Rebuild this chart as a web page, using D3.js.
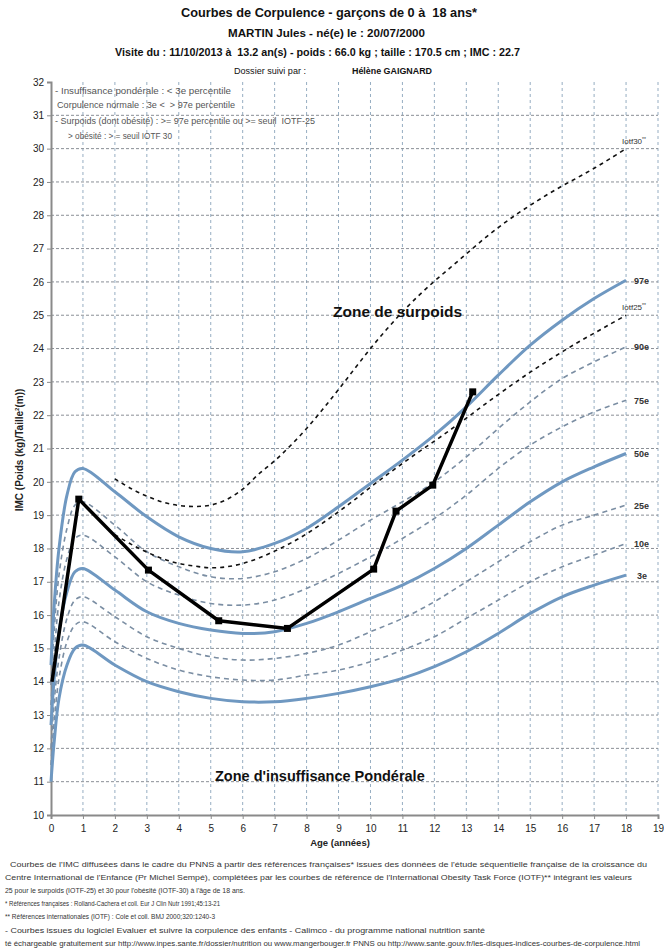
<!DOCTYPE html>
<html><head><meta charset="utf-8">
<script src="https://cdn.jsdelivr.net/npm/d3@7"></script>
<style>
body{margin:0;background:#fff;}
svg{display:block;font-family:"Liberation Sans",Arial,sans-serif;}
</style></head>
<body>
<svg id="c" width="664" height="951"></svg>
<script>
// ---------- DATA ----------
const refAges = [0, 0.1, 0.25, 0.5, 0.75, 1, 2, 3, 4, 5, 6, 7, 8, 9, 10, 11, 12, 13, 14, 15, 16, 17, 18];
const p3  = [11.0, 12.2, 13.5, 14.5, 15.0, 15.1, 14.5, 14.0, 13.7, 13.5, 13.4, 13.4, 13.5, 13.65, 13.85, 14.1, 14.45, 14.9, 15.45, 16.05, 16.55, 16.9, 17.2];
const p10 = [11.5, 12.8, 14.1, 15.2, 15.7, 15.8, 15.2, 14.7, 14.35, 14.15, 14.05, 14.05, 14.2, 14.35, 14.6, 14.95, 15.35, 15.9, 16.45, 17.0, 17.45, 17.8, 18.15];
const p25 = [12.0, 13.4, 14.7, 15.9, 16.45, 16.55, 15.95, 15.35, 15.0, 14.75, 14.65, 14.7, 14.85, 15.1, 15.5, 15.9, 16.4, 17.0, 17.6, 18.2, 18.7, 19.0, 19.3];
const p50 = [12.7, 14.1, 15.5, 16.7, 17.3, 17.4, 16.75, 16.1, 15.75, 15.55, 15.45, 15.5, 15.75, 16.1, 16.5, 16.9, 17.4, 18.0, 18.7, 19.4, 20.0, 20.45, 20.85];
const p75 = [13.3, 14.8, 16.4, 17.7, 18.3, 18.4, 17.75, 17.0, 16.6, 16.35, 16.3, 16.45, 16.8, 17.25, 17.75, 18.3, 18.9, 19.6, 20.4, 21.1, 21.65, 22.1, 22.45];
const p90 = [13.9, 15.55, 17.2, 18.6, 19.3, 19.4, 18.7, 17.9, 17.45, 17.15, 17.1, 17.3, 17.7, 18.25, 18.85, 19.4, 20.0, 20.75, 21.6, 22.4, 23.1, 23.6, 24.05];
const p97 = [14.5, 16.3, 18.0, 19.6, 20.3, 20.4, 19.7, 18.95, 18.35, 18.0, 17.9, 18.15, 18.6, 19.25, 19.95, 20.65, 21.4, 22.25, 23.2, 24.1, 24.85, 25.5, 26.05];

const iotfAges = [2, 2.5, 3, 3.5, 4, 4.5, 5, 5.5, 6, 6.5, 7, 7.5, 8, 8.5, 9, 9.5, 10, 10.5, 11, 11.5, 12, 12.5, 13, 13.5, 14, 14.5, 15, 15.5, 16, 16.5, 17, 17.5, 18];
const iotf25 = [18.41, 18.13, 17.89, 17.69, 17.55, 17.47, 17.42, 17.45, 17.55, 17.71, 17.92, 18.16, 18.44, 18.76, 19.10, 19.46, 19.84, 20.20, 20.55, 20.89, 21.22, 21.56, 21.91, 22.27, 22.62, 22.96, 23.29, 23.60, 23.90, 24.19, 24.46, 24.73, 25.00];
const iotf30 = [20.09, 19.80, 19.57, 19.39, 19.29, 19.26, 19.30, 19.47, 19.78, 20.23, 20.63, 21.09, 21.60, 22.17, 22.77, 23.39, 24.00, 24.57, 25.10, 25.58, 26.02, 26.43, 26.84, 27.25, 27.63, 27.98, 28.30, 28.60, 28.88, 29.14, 29.41, 29.70, 30.00];

const patientAges = [0.03, 0.87, 3.05, 5.25, 7.4, 10.1, 10.8, 11.95, 13.2];
const patientBMI  = [14.0, 19.48, 17.35, 15.83, 15.6, 17.38, 19.12, 19.9, 22.7];

const xTicks = d3.range(0, 20);
const yTicks = d3.range(10, 33);

const titleLines = ["Courbes de Corpulence - garçons de 0 à  18 ans*",
  "MARTIN Jules - né(e) le : 20/07/2000",
  "Visite du : 11/10/2013 à  13.2 an(s) - poids : 66.0 kg ; taille : 170.5 cm ; IMC : 22.7"];
const legendLines = ["- Insuffisance pondérale : < 3e percentile",
  "  Corpulence normale : 3e <  > 97e percentile",
  "- Surpoids (dont obésité) : >= 97e percentile ou >= seuil  IOTF-25",
  "     > obésité : > = seuil IOTF 30"];
const footLines = [
  "  Courbes de l'IMC diffusées dans le cadre du PNNS à partir des références françaises* issues des données de l'étude séquentielle française de la croissance du",
  "Centre International de l'Enfance (Pr Michel Sempé), complétées par les courbes de référence de l'International Obesity Task Force (IOTF)** intégrant les valeurs",
  "25 pour le surpoids (IOTF-25) et 30 pour l'obésité (IOTF-30) à l'âge de 18 ans.",
  "* Références françaises : Rolland-Cachera et coll. Eur J Clin Nutr 1991;45:13-21",
  "** Références internationales (IOTF) : Cole et coll. BMJ 2000;320:1240-3",
  "- Courbes issues du logiciel Evaluer et suivre la corpulence des enfants - Calimco - du programme national nutrition santé",
  "té échargeable gratuitement sur http://www.inpes.sante.fr/dossier/nutrition ou www.mangerbouger.fr PNNS ou http://www.sante.gouv.fr/les-disques-indices-courbes-de-corpulence.html"];

// ---------- DRAW ----------
const svg = d3.select("#c");
const x = d3.scaleLinear().domain([0, 19]).range([51, 658]);
const y = d3.scaleLinear().domain([10, 32]).range([815, 82]);

// grid
const g = svg.append("g");
g.selectAll("line.v").data(xTicks.filter(d => d > 0)).join("line")
  .attr("x1", d => x(d)).attr("x2", d => x(d)).attr("y1", y(32)).attr("y2", y(10))
  .attr("stroke", "#96adc2").attr("stroke-width", 1).attr("stroke-dasharray", "3,3");
g.selectAll("line.h").data(yTicks.filter(d => d > 10 && d < 32)).join("line")
  .attr("x1", x(0)).attr("x2", x(19)).attr("y1", d => y(d)).attr("y2", d => y(d))
  .attr("stroke", "#8a8f96").attr("stroke-width", 1).attr("stroke-dasharray", "3,2");

// axes
const ax = svg.append("g").attr("transform", `translate(0,${y(10)})`)
  .call(d3.axisBottom(x).tickValues(xTicks).tickFormat(d3.format("d")).tickSize(4).tickPadding(6));
const ay = svg.append("g").attr("transform", `translate(${x(0)},0)`)
  .call(d3.axisLeft(y).tickValues(yTicks).tickFormat(d3.format("d")).tickSize(4).tickPadding(3));
[ax, ay].forEach(a => {
  a.select(".domain").attr("stroke", "#8a8a8a").attr("stroke-width", 2);
  a.selectAll(".tick line").attr("stroke", "#8a8a8a");
  a.selectAll(".tick text").attr("font-family", "Liberation Sans, Arial, sans-serif")
    .attr("font-size", 10).attr("fill", "#222");
});

// curves
const line = d3.line().x(d => x(d[0])).y(d => y(d[1])).curve(d3.curveCatmullRom.alpha(0.5));
const zipRef = arr => refAges.map((a, i) => [a, arr[i]]);
const solid = "#6f98c1", dashc = "#7b8ea3";
[p10, p25, p75, p90].forEach(arr => {
  svg.append("path").attr("d", line(zipRef(arr))).attr("fill", "none")
    .attr("stroke", dashc).attr("stroke-width", 1.6).attr("stroke-dasharray", "5,4");
});
[p3, p50, p97].forEach(arr => {
  svg.append("path").attr("d", line(zipRef(arr))).attr("fill", "none")
    .attr("stroke", solid).attr("stroke-width", 3);
});
[iotf25, iotf30].forEach(arr => {
  svg.append("path").attr("d", line(iotfAges.map((a, i) => [a, arr[i]]))).attr("fill", "none")
    .attr("stroke", "#111").attr("stroke-width", 1.6).attr("stroke-dasharray", "4,4");
});

// patient
const pts = patientAges.map((a, i) => [a, patientBMI[i]]);
svg.append("path").attr("d", d3.line().x(d => x(d[0])).y(d => y(d[1]))(pts))
  .attr("fill", "none").attr("stroke", "#000").attr("stroke-width", 3.5).attr("stroke-linejoin", "round");
svg.selectAll("rect.pt").data(pts.slice(1)).join("rect")
  .attr("x", d => x(d[0]) - 3.5).attr("y", d => y(d[1]) - 3.5).attr("width", 7).attr("height", 7).attr("fill", "#000");

// right labels
const lab = svg.append("g").attr("font-size", 9).attr("fill", "#333").attr("font-weight", "bold");
[[p97, "97e"], [p90, "90e"], [p75, "75e"], [p50, "50e"], [p25, "25e"], [p10, "10e"], [p3, "3e"]].forEach(([arr, t]) => {
  lab.append("text").attr("x", x(18) + (t === "3e" ? 11 : 8)).attr("y", y(arr[arr.length - 1]) + 3.5).text(t);
});
[[iotf25, "Iotf25"], [iotf30, "Iotf30"]].forEach(([arr, t]) => {
  const tx = lab.append("text").attr("x", x(18) - 4).attr("y", y(arr[arr.length - 1]) - 5)
    .attr("font-size", 8).attr("font-weight", "normal").text(t);
  tx.append("tspan").attr("font-size", 5).attr("dy", -3).text("**");
});

// zone labels
svg.append("text").attr("x", 333).attr("y", 317).attr("font-size", 15.5).attr("font-weight", "bold").attr("fill", "#111").text("Zone de surpoids");
svg.append("text").attr("x", 215).attr("y", 781).attr("font-size", 14.5).attr("font-weight", "bold").attr("fill", "#111").text("Zone d'insuffisance Pondérale");

// legend text
const legX = [55, 57, 55, 68], legW = [176, 178, 260, 104], legY = [94, 108, 124, 139];
svg.append("g").selectAll("text").data(legendLines).join("text")
  .attr("x", (d, i) => legX[i]).attr("y", (d, i) => legY[i])
  .attr("font-size", 8.6).attr("fill", "#555").style("white-space", "pre")
  .attr("textLength", (d, i) => legW[i]).attr("lengthAdjust", "spacingAndGlyphs")
  .text(d => d.trim());

// axis titles
svg.append("text").attr("x", 340).attr("y", 846).attr("text-anchor", "middle").attr("font-size", 9.5).attr("font-weight", "bold").attr("fill", "#222").text("Age (années)");
const yl = svg.append("text").attr("transform", `translate(23,${450}) rotate(-90)`).attr("text-anchor", "middle")
  .attr("font-size", 10).attr("font-weight", "bold").attr("fill", "#222");
yl.append("tspan").text("IMC (Poids (kg)/Taille");
yl.append("tspan").attr("font-size", 6).attr("dy", -4).text("2");
yl.append("tspan").attr("dy", 4).text("(m))");

// titles
const tt = (txt, x0, y0, w, fs, bold) => svg.append("text").attr("x", x0).attr("y", y0)
  .attr("font-size", fs).attr("font-weight", bold ? "bold" : "normal").attr("fill", "#111")
  .style("white-space", "pre").attr("textLength", w).attr("lengthAdjust", "spacingAndGlyphs").text(txt);
tt(titleLines[0], 181, 17, 296, 12.5, true);
tt(titleLines[1], 228, 37, 197, 10.2, true);
tt(titleLines[2], 115, 56, 405, 10.5, true);
tt("Dossier suivi par :", 234, 74, 72, 8.8, false);
tt("Hélène GAIGNARD", 352, 74, 80, 9, true);

// footnotes
const footW = [642, 627, 240, 215, 210, 480, 635];
svg.append("g").selectAll("text").data(footLines).join("text")
  .attr("x", 5).attr("y", (d, i) => 867 + i * 13.1)
  .attr("font-size", 6.5).attr("fill", "#333").style("white-space", "pre")
  .attr("textLength", (d, i) => footW[i]).attr("lengthAdjust", "spacingAndGlyphs")
  .text(d => d);
</script>
</body></html>
